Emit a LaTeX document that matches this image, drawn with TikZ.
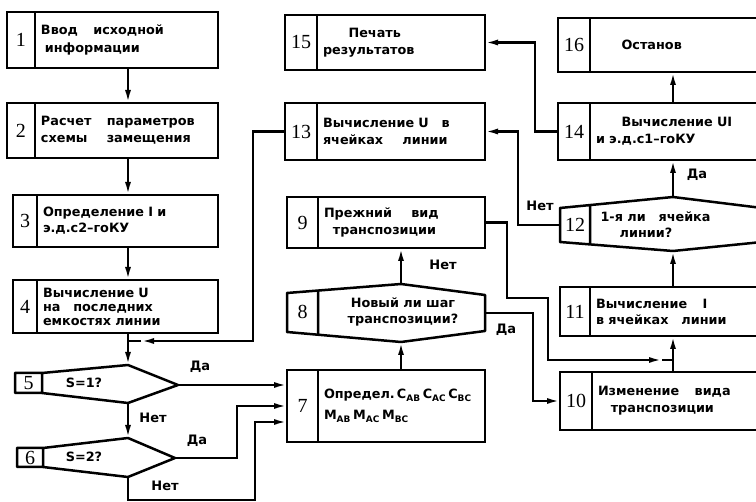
\documentclass[tikz,border=0pt]{standalone}
\usepackage{fontspec}
\setmainfont{DejaVu Sans}
\newfontfamily\numfont{Liberation Serif}
\usetikzlibrary{positioning,arrows.meta}

\tikzset{
  numcell/.style={draw, line width=2.5pt, outer sep=0pt, inner sep=0pt, font=\numfont\fontsize{20}{20}\selectfont},
  numtext/.style={inner sep=0pt, font=\numfont\fontsize{20}{20}\selectfont},
  txtcell/.style={draw, line width=2.5pt, outer sep=0pt, inner xsep=6pt, inner ysep=0pt, align=left},
  outline/.style={line width=2.5pt, line join=round},
  wire/.style={line width=2.3pt},
  flow/.style={line width=2.3pt, -{Latex[length=13pt,width=6pt]}},
  lbl/.style={inner sep=0pt, font=\bfseries\fontsize{13}{15}\selectfont},
}

\begin{document}
\begin{tikzpicture}[x=1pt, y=-1pt, font=\bfseries\fontsize{12.8}{14}\selectfont]
\useasboundingbox (0,0) rectangle (756,502);

\node[numcell, minimum width=28pt, minimum height=56pt] (n1) at (21,40) {1};
\node[txtcell, text width=171pt, minimum height=56pt, right=0pt of n1] (b1) {Ввод\hspace{1.2em}исходной\\[4pt]\hspace*{0.3em}информации};

\node[numcell, minimum width=28pt, minimum height=55pt] (n2) at (21,130.5) {2};
\node[txtcell, text width=171pt, minimum height=55pt, right=0pt of n2] (b2) {Расчет\hspace{1.2em}параметров\\[3pt]схемы\hspace{1.5em}замещения};

\node[numcell, minimum width=24pt, minimum height=52pt] (n3) at (25,221) {3};
\node[txtcell, text width=169pt, minimum height=52pt, right=0pt of n3] (b3) {Определение I и\\[2pt]э.д.с2–гоКУ};

\node[numcell, minimum width=24pt, minimum height=53pt] (n4) at (25,306.5) {4};
\node[txtcell, text width=169pt, minimum height=53pt, right=0pt of n4] (b4) {Вычисление U\\на\hspace{1em}последних\\емкостях линии};

\node[numcell, minimum width=31pt, minimum height=72pt] (n7) at (302.5,406) {7};
\node[txtcell, text width=155pt, minimum height=72pt, right=0pt of n7] (b7) {Определ.\,C\textsubscript{AB}\,C\textsubscript{AC}\,C\textsubscript{BC}\\[7pt]M\textsubscript{AB}\,M\textsubscript{AC}\,M\textsubscript{BC}};

\node[numcell, minimum width=31pt, minimum height=51pt] (n9) at (302.5,222.5) {9};
\node[txtcell, text width=155pt, minimum height=51pt, right=0pt of n9] (b9) {Прежний\hspace{1.5em}вид\\[3pt]\hspace*{0.7em}транспозиции};

\node[numcell, minimum width=32pt, minimum height=57pt] (n13) at (301,131.5) {13};
\node[txtcell, text width=156pt, minimum height=57pt, right=0pt of n13] (b13) {Вычисление U\hspace{1em}в\\[3pt]ячейках\hspace{1.5em}линии};

\node[numcell, minimum width=32pt, minimum height=55pt] (n15) at (301,42.5) {15};
\node[txtcell, text width=156pt, minimum height=55pt, right=0pt of n15] (b15) {\hspace*{2em}Печать\\[3pt]результатов};

\node[numcell, minimum width=32pt, minimum height=54pt] (n16) at (574,45) {16};
\node[txtcell, text width=160pt, minimum height=54pt, right=0pt of n16] (b16) {\hspace*{2em}Останов};

\node[numcell, minimum width=32pt, minimum height=57pt] (n14) at (574,131.5) {14};
\node[txtcell, text width=160pt, minimum height=57pt, right=0pt of n14] (b14) {\hspace*{2em}Вычисление UI\\[3pt]и э.д.с1–гоКУ};

\node[numcell, minimum width=30pt, minimum height=49pt] (n11) at (575,311.5) {11};
\node[txtcell, text width=160pt, minimum height=49pt, right=0pt of n11] (b11) {Вычисление\hspace{1.2em}I\\[2pt]в ячейках\hspace{1em}линии};

\node[numcell, minimum width=32pt, minimum height=58pt] (n10) at (576,401) {10};
\node[txtcell, text width=158pt, minimum height=58pt, right=0pt of n10] (b10) {Изменение\hspace{1.2em}вида\\[3pt]\hspace*{1em}транспозиции};

\coordinate (d5t) at (128,365);
\coordinate (d5r) at (178,385);
\coordinate (d5b) at (128,403);
\draw[outline] (15,373) -- (42,373) -- (d5t) -- (d5r) -- (d5b) -- (42,393) -- (15,393) -- cycle (42,373) -- (42,393);
\node[numtext] (n5) at (28.5,383) {5};
\node (t5) at (84,383) {S=1?};

\coordinate (d6t) at (128,438);
\coordinate (d6r) at (175,458);
\coordinate (d6b) at (128,477);
\draw[outline] (17,448) -- (43,448) -- (d6t) -- (d6r) -- (d6b) -- (43,467) -- (17,467) -- cycle (43,448) -- (43,467);
\node[numtext] (n6) at (30,457.5) {6};
\node (t6) at (84,457) {S=2?};

\coordinate (d8t) at (401,284);
\coordinate (d8r) at (485,313);
\coordinate (d8b) at (401,342);
\draw[outline] (287,293) -- (d8t) -- (485,295) -- (485,331) -- (d8b) -- (287,332) -- cycle (318,290.6) -- (318,334.7);
\node[numtext] (n8) at (302.5,312) {8};
\node[align=center] (t8) at (403,312) {Новый ли шаг\\[2pt]транспозиции?};

\coordinate (d12t) at (673,197);
\coordinate (d12b) at (673,251);
\coordinate (d12l) at (560,225);
\draw[outline] (762,208) -- (d12t) -- (560,208) -- (560,242) -- (d12b) -- (762,242) (590,205.1) -- (590,244.4);
\node[numtext] (n12) at (575,225) {12};
\node[anchor=west, align=left] (t12) at (597,225) {1-я ли\hspace{1em}ячейка\\[2pt]\hspace*{1.5em}линии?};

\coordinate (j1) at (128,341);
\coordinate (a1) at (141,341);
\coordinate (j2) at (673,360);
\coordinate (a2) at (662,360);

\draw[flow] (b1.south -| d5t) -- (b2.north -| d5t);
\draw[flow] (b2.south -| d5t) -- (b3.north -| d5t);
\draw[flow] (b3.south -| d5t) -- (b4.north -| d5t);
\draw[flow] (b4.south -| d5t) -- (d5t);
\draw[flow] (n13.west) -- ++(-32,0) |- (a1);
\draw[wire] (a1) -- (j1);
\draw[flow] (d5r) -- (d5r -| n7.west);
\draw[flow] (d5b) -- (d6t);
\draw[flow] (d6r) -- ++(62,0) |- (n7.west);
\draw[flow] (d6b) |- (255,500) |- ([yshift=-16pt]n7.west);
\draw[flow] (b7.north -| d8b) -- (d8b);
\draw[flow] (d8t) -- (d8t |- b9.south);
\draw[flow] (d8r) -- ++(48,0) |- (n10.west);
\draw[flow] (b9.east) -- ++(22,0) |- (548,298) |- (a2);
\draw[wire] (a2) -- (j2);
\draw[flow] (b10.north -| j2) -- (b11.south -| j2);
\draw[flow] (b11.north -| j2) -- (d12b);
\draw[flow] (d12t) -- (d12t |- b14.south);
\draw[flow] (b14.north -| j2) -- (b16.south -| j2);
\draw[flow] (d12l) -- ++(-42,0) |- (b13.east);
\draw[flow] (n14.west) -- ++(-23,0) |- (b15.east);

\node[lbl] (l1) at (200,367) {Да};
\node[lbl] (l2) at (153,418) {Нет};
\node[lbl] (l3) at (197,441) {Да};
\node[lbl] (l4) at (165,486) {Нет};
\node[lbl] (l5) at (443,265) {Нет};
\node[lbl] (l6) at (506,330) {Да};
\node[lbl] (l7) at (540,206) {Нет};
\node[lbl] (l8) at (697,175) {Да};
\end{tikzpicture}
\end{document}
